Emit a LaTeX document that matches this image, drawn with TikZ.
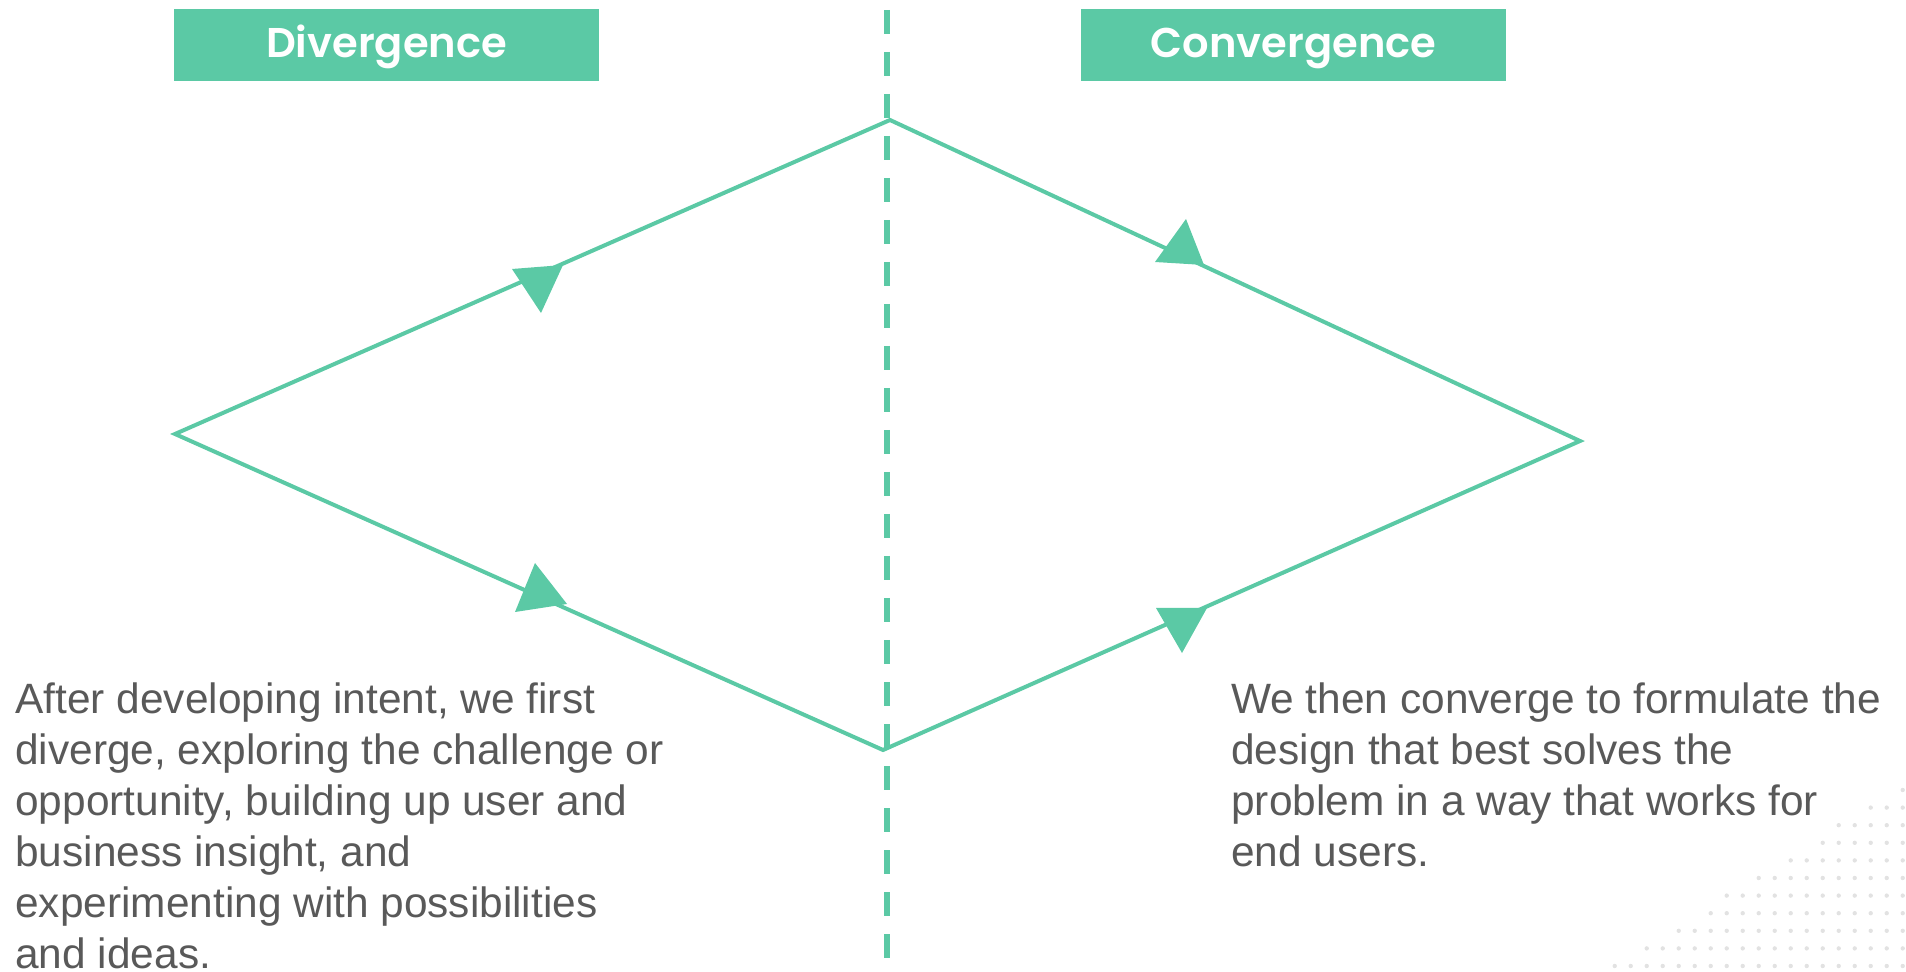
\documentclass[tikz,border=0pt]{standalone}
\usepackage{fontspec}
\setmainfont{Liberation Sans}
\newfontfamily\headfont{Poppins SemiBold}
\definecolor{mint}{RGB}{91,201,165}
\definecolor{bodygrey}{RGB}{89,89,89}
\definecolor{dotgrey}{RGB}{226,226,226}
\begin{document}
\begin{tikzpicture}[x=0.5pt,y=-0.5pt,
  header/.style={fill=mint, minimum width=212.5pt, minimum height=36pt,
    inner sep=0pt, text=white, text height=12.3pt, text depth=0pt,
    font=\headfont\fontsize{20.8}{24}\selectfont},
  body/.style={text=bodygrey, align=left, inner sep=0pt, anchor=base west,
    font=\fontsize{21.2}{25.5}\selectfont},
  flow/.style={draw=mint, line width=2pt, line join=miter},
  tip/.style={fill=mint},
  axis/.style={draw=mint, line width=3pt, dash pattern=on 12pt off 9pt},
  dot/.style={fill=dotgrey}]
\useasboundingbox (0,0) rectangle (1906,972);

% dotted texture in the lower right corner
\foreach \r/\cmax in {0/0,1/2,2/4,3/5,4/7,5/9,6/11,7/12,8/14,9/16,10/18}{
  \foreach \c in {0,...,\cmax}{
    \fill[dot] ({1902.7-16*\c},{790+17.6*\r}) circle [radius=1.1pt];
  }
}

% headers
\node[header] (div) at (386.5,45) {Divergence};
\node[header] (conv) at (1293.5,45) {Convergence};

% dashed centre axis
\coordinate (axtop) at (887,10);
\coordinate (axbot) at (887,958);
\draw[axis] (axtop) -- (axbot);

% diamond of the double process
\coordinate (L) at (175,434);
\coordinate (T) at (890,120);
\coordinate (R) at (1580,441);
\coordinate (B) at (883,750);
\draw[flow] (L) -- (T) -- (R) -- (B) -- cycle;

% arrow heads along the edges
\fill[tip] (512,269) -- (563,265) -- (541,313) -- cycle;
\fill[tip] (1186,219) -- (1155,262) -- (1204,265) -- cycle;
\fill[tip] (535,563) -- (515,612) -- (567,604) -- cycle;
\fill[tip] (1156,608) -- (1207,608) -- (1182,653) -- cycle;

% explanatory texts (anchored at the baseline of their last line)
\node[body] (divtext) at (15,968) {After developing intent, we first\\
diverge, exploring the challenge or\\
opportunity, building up user and\\
business insight, and\\
experimenting with possibilities\\
and ideas.};
\node[body] (convtext) at (1231,866) {We then converge to formulate the\\
design that best solves the\\
problem in a way that works for\\
end users.};
\end{tikzpicture}
\end{document}
